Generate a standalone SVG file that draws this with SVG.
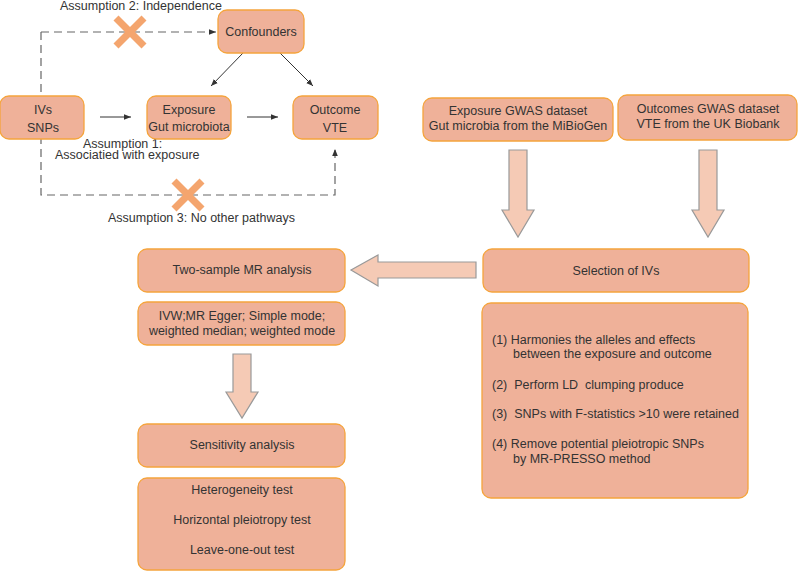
<svg xmlns="http://www.w3.org/2000/svg" width="798" height="572" viewBox="0 0 798 572">
<defs>
<style>
.box{fill:#EFB199;stroke:#F5A43C;stroke-width:1.3}
.t{font-family:"Liberation Sans",Arial,sans-serif;font-size:12.5px;fill:#333;white-space:pre}
.m{text-anchor:middle}
.dash{fill:none;stroke:#666;stroke-width:1.2;stroke-dasharray:8,5}
.ln{fill:none;stroke:#333;stroke-width:1}
.fat{fill:#F5CAB5;stroke:#999;stroke-width:1.2}
.x{stroke:#F4A56E;stroke-width:7;stroke-linecap:butt}
</style>
<marker id="ah" viewBox="0 0 10 10" refX="10" refY="5" markerWidth="7" markerHeight="7" orient="auto" markerUnits="userSpaceOnUse">
<path d="M0,1 L10,5 L0,9 Z" fill="#333"/>
</marker>
</defs>
<rect width="798" height="572" fill="#fff"/>

<g id="connectors">
<path class="dash" d="M41,32 H216" marker-end="url(#ah)"/>
<path class="dash" d="M41,32 V195 H335 V149" marker-end="url(#ah)"/>
<line class="ln" x1="100" y1="117" x2="131" y2="117" marker-end="url(#ah)"/>
<line class="ln" x1="247" y1="117" x2="278" y2="117" marker-end="url(#ah)"/>
<line class="ln" x1="243" y1="53" x2="211" y2="86" marker-end="url(#ah)"/>
<line class="ln" x1="280" y1="53" x2="313" y2="86" marker-end="url(#ah)"/>
<path class="fat" d="M509,150 H527 V210 H534 L518,237 L502,210 H509 Z"/>
<path class="fat" d="M699,150 H717 V210 H724 L708,237 L692,210 H699 Z"/>
<path class="fat" d="M476,262 V278 H378 V286 L351,270 L378,255 V262 Z"/>
<path class="fat" d="M233,354 H251 V392 H258 L242,418 L226,392 H233 Z"/>
</g>

<g id="crosses">
<g transform="translate(130,32)">
<line class="x" x1="-14" y1="-14" x2="14" y2="14"/>
<line class="x" x1="14" y1="-14" x2="-14" y2="14"/>
</g>
<g transform="translate(188,195)">
<line class="x" x1="-14" y1="-14" x2="14" y2="14"/>
<line class="x" x1="14" y1="-14" x2="-14" y2="14"/>
</g>
</g>

<g id="labels">
<text class="t" x="60" y="10">Assumption 2: Independence</text>
<text class="t" x="83" y="148">Assumption 1:</text>
<text class="t" x="55" y="159">Associatied with exposure</text>
<text class="t" x="108" y="222">Assumption 3: No other pathways</text>
</g>

<g id="confounders">
<rect class="box" x="218" y="10" width="86" height="43" rx="9"/>
<text class="t m" x="261" y="36">Confounders</text>
</g>
<g id="ivs">
<rect class="box" x="0" y="96" width="84" height="43" rx="9"/>
<text class="t m" x="43" y="114">IVs</text>
<text class="t m" x="43" y="132">SNPs</text>
</g>
<g id="exposure">
<rect class="box" x="147" y="96" width="84" height="43" rx="9"/>
<text class="t m" x="189" y="114">Exposure</text>
<text class="t m" x="189" y="131">Gut microbiota</text>
</g>
<g id="outcome">
<rect class="box" x="293" y="96" width="85" height="43" rx="9"/>
<text class="t m" x="335" y="114">Outcome</text>
<text class="t m" x="335" y="132">VTE</text>
</g>

<g id="exposure-gwas">
<rect class="box" x="423" y="98" width="190" height="43" rx="9"/>
<text class="t m" x="518" y="115">Exposure GWAS dataset</text>
<text class="t m" x="518" y="130">Gut microbia from the MiBioGen</text>
</g>
<g id="outcome-gwas">
<rect class="box" x="618" y="95" width="179" height="45" rx="9"/>
<text class="t m" x="708" y="113">Outcomes GWAS dataset</text>
<text class="t m" x="708" y="128">VTE from the UK Biobank</text>
</g>

<g id="selection">
<rect class="box" x="483" y="249" width="266" height="43" rx="9"/>
<text class="t m" x="616" y="275">Selection of IVs</text>
</g>
<g id="steps">
<rect class="box" x="482" y="303" width="266" height="195" rx="9"/>
<text class="t" x="492" y="344">(1) Harmonies the alleles and effects</text>
<text class="t" x="513" y="358">between the exposure and outcome</text>
<text class="t" x="492" y="389" xml:space="preserve">(2)  Perform LD  clumping produce</text>
<text class="t" x="492" y="418" xml:space="preserve">(3)  SNPs with F-statistics &gt;10 were retained</text>
<text class="t" x="492" y="448">(4) Remove potential pleiotropic SNPs</text>
<text class="t" x="513" y="463">by MR-PRESSO method</text>
</g>

<g id="two-sample">
<rect class="box" x="138" y="249" width="207" height="43" rx="9"/>
<text class="t m" x="242" y="274">Two-sample MR analysis</text>
</g>
<g id="methods">
<rect class="box" x="138" y="302" width="207" height="43" rx="9"/>
<text class="t m" x="242" y="320">IVW;MR Egger; Simple mode;</text>
<text class="t m" x="242" y="335">weighted median; weighted mode</text>
</g>
<g id="sensitivity">
<rect class="box" x="138" y="424" width="207" height="43" rx="9"/>
<text class="t m" x="242" y="449">Sensitivity analysis</text>
</g>
<g id="tests">
<rect class="box" x="138" y="478" width="207" height="92" rx="9"/>
<text class="t m" x="242" y="494">Heterogeneity test</text>
<text class="t m" x="242" y="524">Horizontal pleiotropy test</text>
<text class="t m" x="242" y="554">Leave-one-out test</text>
</g>
</svg>
